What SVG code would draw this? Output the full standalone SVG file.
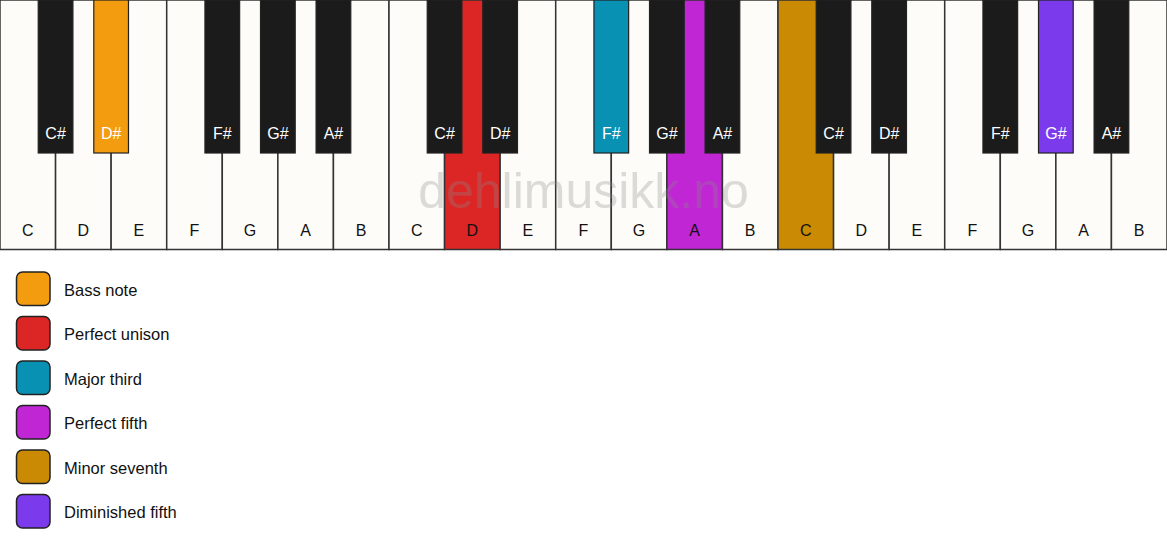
<svg xmlns="http://www.w3.org/2000/svg" width="1167" height="550" viewBox="0 0 1167 550">
<style>
.w{fill:#fdfcf8;stroke:#333;stroke-width:1.5}
.b{fill:#1b1b1b;stroke:#222;stroke-width:1.2}
.lw{font-family:"Liberation Sans",Arial,sans-serif;font-size:16px;fill:#111;text-anchor:middle}
.lb{font-family:"Liberation Sans",Arial,sans-serif;font-size:16px;fill:#fff;text-anchor:middle}
.lg{stroke:#222;stroke-width:1.5}
.lt{font-family:"Liberation Sans",Arial,sans-serif;font-size:16.5px;fill:#111}
</style>
<rect width="1167" height="550" fill="#ffffff"/>
<g id="white-keys">
<rect class="w" x="0" y="0" width="55.57" height="249.5"/>
<rect class="w" x="55.57" y="0" width="55.57" height="249.5"/>
<rect class="w" x="111.14" y="0" width="55.57" height="249.5"/>
<rect class="w" x="166.71" y="0" width="55.57" height="249.5"/>
<rect class="w" x="222.29" y="0" width="55.57" height="249.5"/>
<rect class="w" x="277.86" y="0" width="55.57" height="249.5"/>
<rect class="w" x="333.43" y="0" width="55.57" height="249.5"/>
<rect class="w" x="389" y="0" width="55.57" height="249.5"/>
<rect class="w" x="444.57" y="0" width="55.57" height="249.5" style="fill:#dc2626"/>
<rect class="w" x="500.14" y="0" width="55.57" height="249.5"/>
<rect class="w" x="555.71" y="0" width="55.57" height="249.5"/>
<rect class="w" x="611.29" y="0" width="55.57" height="249.5"/>
<rect class="w" x="666.86" y="0" width="55.57" height="249.5" style="fill:#c026d3"/>
<rect class="w" x="722.43" y="0" width="55.57" height="249.5"/>
<rect class="w" x="778" y="0" width="55.57" height="249.5" style="fill:#ca8a04"/>
<rect class="w" x="833.57" y="0" width="55.57" height="249.5"/>
<rect class="w" x="889.14" y="0" width="55.57" height="249.5"/>
<rect class="w" x="944.71" y="0" width="55.57" height="249.5"/>
<rect class="w" x="1000.29" y="0" width="55.57" height="249.5"/>
<rect class="w" x="1055.86" y="0" width="55.57" height="249.5"/>
<rect class="w" x="1111.43" y="0" width="55.57" height="249.5"/>
</g>
<g id="white-labels">
<text class="lw" x="27.79" y="236">C</text>
<text class="lw" x="83.36" y="236">D</text>
<text class="lw" x="138.93" y="236">E</text>
<text class="lw" x="194.5" y="236">F</text>
<text class="lw" x="250.07" y="236">G</text>
<text class="lw" x="305.64" y="236">A</text>
<text class="lw" x="361.21" y="236">B</text>
<text class="lw" x="416.79" y="236">C</text>
<text class="lw" x="472.36" y="236">D</text>
<text class="lw" x="527.93" y="236">E</text>
<text class="lw" x="583.5" y="236">F</text>
<text class="lw" x="639.07" y="236">G</text>
<text class="lw" x="694.64" y="236">A</text>
<text class="lw" x="750.21" y="236">B</text>
<text class="lw" x="805.79" y="236">C</text>
<text class="lw" x="861.36" y="236">D</text>
<text class="lw" x="916.93" y="236">E</text>
<text class="lw" x="972.5" y="236">F</text>
<text class="lw" x="1028.07" y="236">G</text>
<text class="lw" x="1083.64" y="236">A</text>
<text class="lw" x="1139.21" y="236">B</text>
</g>
<g id="black-keys">
<rect class="b" x="38.22" y="0" width="34.7" height="153"/>
<rect class="b" x="93.79" y="0" width="34.7" height="153" style="fill:#f39c0f"/>
<rect class="b" x="204.94" y="0" width="34.7" height="153"/>
<rect class="b" x="260.51" y="0" width="34.7" height="153"/>
<rect class="b" x="316.08" y="0" width="34.7" height="153"/>
<rect class="b" x="427.22" y="0" width="34.7" height="153"/>
<rect class="b" x="482.79" y="0" width="34.7" height="153"/>
<rect class="b" x="593.94" y="0" width="34.7" height="153" style="fill:#0891b2"/>
<rect class="b" x="649.51" y="0" width="34.7" height="153"/>
<rect class="b" x="705.08" y="0" width="34.7" height="153"/>
<rect class="b" x="816.22" y="0" width="34.7" height="153"/>
<rect class="b" x="871.79" y="0" width="34.7" height="153"/>
<rect class="b" x="982.94" y="0" width="34.7" height="153"/>
<rect class="b" x="1038.51" y="0" width="34.7" height="153" style="fill:#7c3aed"/>
<rect class="b" x="1094.08" y="0" width="34.7" height="153"/>
</g>
<g id="black-labels">
<text class="lb" x="55.57" y="139">C#</text>
<text class="lb" x="111.14" y="139">D#</text>
<text class="lb" x="222.29" y="139">F#</text>
<text class="lb" x="277.86" y="139">G#</text>
<text class="lb" x="333.43" y="139">A#</text>
<text class="lb" x="444.57" y="139">C#</text>
<text class="lb" x="500.14" y="139">D#</text>
<text class="lb" x="611.29" y="139">F#</text>
<text class="lb" x="666.86" y="139">G#</text>
<text class="lb" x="722.43" y="139">A#</text>
<text class="lb" x="833.57" y="139">C#</text>
<text class="lb" x="889.14" y="139">D#</text>
<text class="lb" x="1000.29" y="139">F#</text>
<text class="lb" x="1055.86" y="139">G#</text>
<text class="lb" x="1111.43" y="139">A#</text>
</g>
<text id="watermark" x="583.5" y="208" font-family="'Liberation Sans',Arial,sans-serif" font-size="50" fill="#8c8c8c" fill-opacity="0.3" text-anchor="middle">dehlimusikk.no</text>
<g id="legend">
<g id="legend-bass"><rect class="lg" x="16.5" y="272" width="33.5" height="33.5" rx="6" fill="#f39c0f"/><text class="lt" x="64" y="295.5">Bass note</text></g>
<g id="legend-unison"><rect class="lg" x="16.5" y="316.5" width="33.5" height="33.5" rx="6" fill="#dc2626"/><text class="lt" x="64" y="340">Perfect unison</text></g>
<g id="legend-third"><rect class="lg" x="16.5" y="361" width="33.5" height="33.5" rx="6" fill="#0891b2"/><text class="lt" x="64" y="384.5">Major third</text></g>
<g id="legend-fifth"><rect class="lg" x="16.5" y="405.5" width="33.5" height="33.5" rx="6" fill="#c026d3"/><text class="lt" x="64" y="429">Perfect fifth</text></g>
<g id="legend-seventh"><rect class="lg" x="16.5" y="450" width="33.5" height="33.5" rx="6" fill="#ca8a04"/><text class="lt" x="64" y="473.5">Minor seventh</text></g>
<g id="legend-dim"><rect class="lg" x="16.5" y="494.5" width="33.5" height="33.5" rx="6" fill="#7c3aed"/><text class="lt" x="64" y="518">Diminished fifth</text></g>
</g>
<g id="connectors"/>
</svg>
